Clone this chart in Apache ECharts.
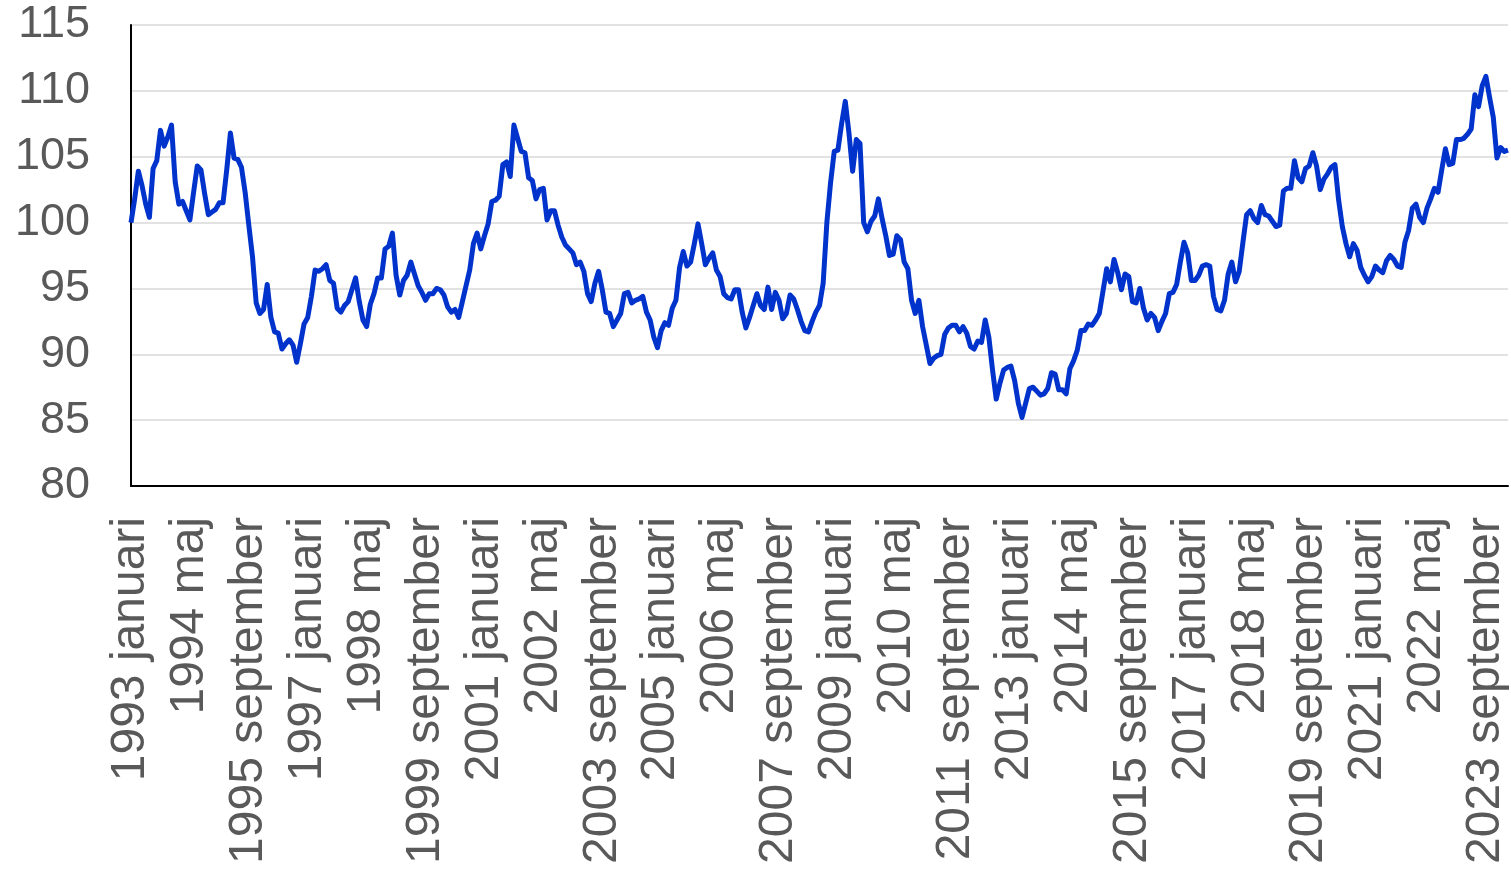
<!DOCTYPE html>
<html>
<head>
<meta charset="utf-8">
<script src="https://cdn.jsdelivr.net/npm/echarts@6/dist/echarts.min.js"></script>
<style>
html,body{margin:0;padding:0;background:#fff;}
#chart{width:1511px;height:874px;}
</style>
</head>
<body>
<div id="chart"></div>
<script>
// Month names (Swedish) and start year used for category labels
const monthNames = ['januari','februari','mars','april','maj','juni','juli','augusti','september','oktober','november','december'];
const startYear = 1993;

// Y-axis ticks
const yMin = 80, yMax = 115, yStep = 5;

// Index values, monthly from 1993 januari
const values1993_1996 = [
  100.0, 101.8, 103.9, 102.8, 101.4, 100.4, 104.1, 104.7, 107.0, 105.8, 106.5, 107.4,
  103.1, 101.4, 101.6, 100.9, 100.2, 102.3, 104.3, 104.0, 102.2, 100.6, 100.8, 101.0,
  101.5, 101.5, 104.0, 106.8, 104.9, 104.8, 104.2, 102.3, 99.8, 97.4, 93.9, 93.1,
  93.4, 95.3, 92.8, 91.7, 91.6, 90.4, 90.8, 91.1, 90.7, 89.4, 90.8, 92.3
];
const values1997_2000 = [
  92.8, 94.4, 96.4, 96.3, 96.5, 96.8, 95.6, 95.4, 93.5, 93.2, 93.7, 94.0,
  94.9, 95.8, 94.0, 92.6, 92.1, 93.8, 94.6, 95.8, 95.8, 98.0, 98.2, 99.2,
  96.0, 94.5, 95.6, 96.0, 97.0, 96.1, 95.2, 94.7, 94.1, 94.6, 94.6, 95.0,
  94.9, 94.5, 93.6, 93.2, 93.4, 92.8
];
const values2000_2004 = [
  94.0, 95.2, 96.4, 98.4, 99.2, 98.0, 99.0, 99.9, 101.6, 101.7,
  102.0, 104.4, 104.6, 103.5, 107.4, 106.4, 105.4, 105.3, 103.4, 103.2,
  101.8, 102.5, 102.6, 100.2, 100.9, 100.9, 99.8, 98.9, 98.3, 98.0,
  97.7, 96.8, 97.0, 96.3, 94.6, 94.0, 95.4, 96.3, 94.9, 93.2,
  93.1, 92.1, 92.6, 93.1, 94.6, 94.7, 93.9, 94.1, 94.2, 94.4
];
const values2004_2008 = [
  93.2, 92.6, 91.3, 90.5, 91.8, 92.4, 92.2, 93.5, 94.1, 96.6,
  97.8, 96.7, 97.0, 98.4, 99.9, 98.4, 96.8, 97.3, 97.7, 96.4,
  95.9, 94.6, 94.3, 94.2, 94.9, 94.9, 93.2, 92.0, 92.8, 93.7,
  94.6, 93.7, 93.4, 95.1, 93.4, 94.7, 94.1, 92.7, 93.1, 94.5,
  94.2, 93.4, 92.5, 91.8, 91.7, 92.5
];
const values2008_2012 = [
  93.2, 93.7, 95.4, 100.0, 103.0, 105.4, 105.5, 107.5, 109.2, 106.8,
  103.9, 106.3, 106.0, 100.0, 99.3, 100.1, 100.5, 101.8, 100.3, 99.0,
  97.5, 97.6, 99.0, 98.7, 97.0, 96.5, 94.1, 93.1, 94.1, 92.1,
  90.7, 89.3, 89.7, 89.9, 90.0, 91.5, 92.0, 92.2, 92.2, 91.7,
  92.1, 91.6, 90.6, 90.4, 91.0, 90.9
];
const values2012_2015 = [
  92.6, 91.3, 88.8, 86.6, 87.8, 88.8, 89.0, 89.1, 88.0, 86.3,
  85.2, 86.3, 87.4, 87.5, 87.2, 86.9, 87.0, 87.4, 88.6, 88.5,
  87.3, 87.3, 87.0, 88.9, 89.5, 90.3, 91.8, 91.8, 92.3, 92.2,
  92.6, 93.1, 94.8, 96.5, 95.5, 97.2, 96.2, 94.9, 96.1, 95.9,
  94.0, 93.9, 95.0
];
const values2015_2020 = [
  93.5, 92.6, 93.1, 92.8, 91.8, 92.5, 93.1, 94.6, 94.7, 95.3,
  97.0, 98.5, 97.7, 95.6, 95.6, 96.0, 96.7, 96.8, 96.7, 94.4,
  93.4, 93.3, 94.1, 96.1, 97.0, 95.5, 96.3, 98.5, 100.6, 100.9,
  100.3, 100.0, 101.3, 100.6, 100.5, 100.1, 99.7, 99.8, 102.4, 102.6,
  102.6, 104.7, 103.4, 103.1, 104.1, 104.3, 105.3, 104.3, 102.5, 103.3,
  103.7, 104.2, 104.4
];
const values2020_2024 = [
  101.7, 99.7, 98.4, 97.4, 98.4, 97.9, 96.6, 96.0, 95.5, 95.9,
  96.7, 96.4, 96.2, 97.1, 97.5, 97.2, 96.7, 96.6, 98.5, 99.4,
  101.1, 101.4, 100.4, 100.0, 101.1, 101.8, 102.6, 102.3, 104.0, 105.6,
  104.4, 104.5, 106.3, 106.3, 106.4, 106.7, 107.1, 109.7, 108.8, 110.4,
  111.1, 109.5, 108.0, 104.9, 105.7, 105.4, 105.5
];

const values = [].concat(values1993_1996, values1997_2000, values2000_2004, values2004_2008,
  values2008_2012, values2012_2015, values2015_2020, values2020_2024);
const categories = values.map((_, i) => (startYear + Math.floor(i / 12)) + ' ' + monthNames[i % 12]);

const chart = echarts.init(document.getElementById('chart'), null, {renderer: 'canvas'});
chart.setOption({
  animation: false,
  backgroundColor: '#ffffff',
  grid: {left: 131, right: 3, top: 25, bottom: 388, containLabel: false},
  xAxis: {
    type: 'category',
    boundaryGap: false,
    data: categories,
    axisLine: {show: true, lineStyle: {color: '#000000', width: 2}},
    axisTick: {show: false},
    splitLine: {show: false},
    axisLabel: {
      interval: 15,
      rotate: 90,
      margin: 31,
      color: '#595959',
      fontSize: 48,
      fontFamily: 'Liberation Sans, Arial, sans-serif'
    }
  },
  yAxis: {
    type: 'value',
    min: yMin,
    max: yMax,
    interval: yStep,
    axisLine: {show: true, lineStyle: {color: '#000000', width: 2}},
    axisTick: {show: false},
    splitLine: {show: true, lineStyle: {color: '#d9d9d9', width: 1.5}},
    axisLabel: {
      margin: 41,
      color: '#595959',
      fontSize: 45,
      fontFamily: 'Liberation Sans, Arial, sans-serif'
    }
  },
  series: [{
    type: 'line',
    data: values,
    showSymbol: false,
    symbol: 'none',
    smooth: false,
    lineStyle: {color: '#0033cc', width: 5, join: 'round'},
    z: 3
  }]
});
</script>
</body>
</html>
